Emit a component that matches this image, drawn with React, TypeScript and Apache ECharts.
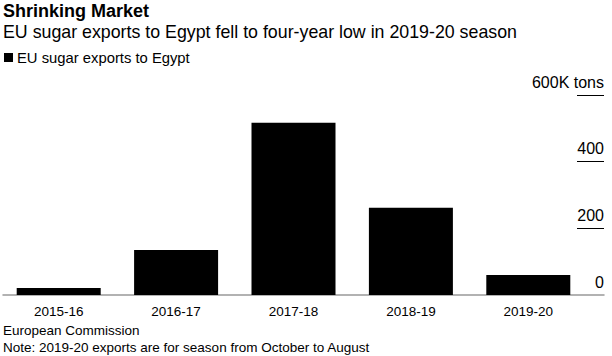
import React, { useEffect, useRef } from "react";
import * as echarts from "echarts";

const categories = ["2015-16", "2016-17", "2017-18", "2018-19", "2019-20"];
const exportsKTons = [21, 135, 517, 262, 60];
const seriesName = "EU sugar exports to Egypt";
const yMin = 0;
const yMax = 600;
const yInterval = 200;
const titleText = "Shrinking Market";
const subtitleText = "EU sugar exports to Egypt fell to four-year low in 2019-20 season";
const sourceText = "European Commission";
const noteText = "Note: 2019-20 exports are for season from October to August";

const FONT = "'Liberation Sans', Arial, Helvetica, sans-serif";

export default function App() {
  const ref = useRef<HTMLDivElement>(null);
  useEffect(() => {
    if (!ref.current) return;
    const chart = echarts.init(ref.current, undefined, { renderer: "svg" });
    const gridTop = 95;
    const gridBottom = 61;
    chart.setOption({
      animation: false,
      backgroundColor: "#fff",
      textStyle: { fontFamily: FONT },
      title: [
        {
          text: titleText,
          left: 3,
          top: 2,
          padding: 0,
          textStyle: { fontFamily: FONT, fontSize: 18, fontWeight: "bold", color: "#000" },
        },
        {
          text: subtitleText,
          left: 3,
          top: 23,
          padding: 0,
          textStyle: { fontFamily: FONT, fontSize: 17.8, fontWeight: "normal", color: "#000" },
        },
        {
          text: sourceText,
          left: 3,
          top: 323,
          padding: 0,
          textStyle: { fontFamily: FONT, fontSize: 13.5, fontWeight: "normal", color: "#000" },
        },
        {
          text: noteText,
          left: 3,
          top: 340,
          padding: 0,
          textStyle: { fontFamily: FONT, fontSize: 13.5, fontWeight: "normal", color: "#000" },
        },
      ],
      legend: {
        data: [seriesName],
        left: 4,
        top: 50,
        padding: 0,
        icon: "rect",
        itemWidth: 9,
        itemHeight: 9,
        itemGap: 5,
        textStyle: { fontFamily: FONT, fontSize: 14.8, color: "#000", padding: [0, 0, 0, -1] },
      },
      grid: [
        { left: -15, right: 25, top: gridTop, bottom: gridBottom },
        { left: 577, right: 8, top: gridTop, bottom: gridBottom },
        { left: 3, right: 8, top: gridTop, bottom: gridBottom },
      ],
      xAxis: [
        {
          type: "category",
          gridIndex: 0,
          data: categories,
          axisLine: { show: false },
          axisTick: { show: false },
          axisLabel: { fontFamily: FONT, fontSize: 13.5, color: "#000", margin: 9 },
        },
        {
          type: "value",
          gridIndex: 1,
          min: 0,
          max: 1,
          show: false,
        },
        {
          type: "value",
          gridIndex: 2,
          min: 0,
          max: 1,
          axisLine: { show: true, lineStyle: { color: "#999", width: 1.5 } },
          axisTick: { show: false },
          axisLabel: { show: false },
          splitLine: { show: false },
        },
      ],
      yAxis: [
        {
          type: "value",
          gridIndex: 0,
          min: yMin,
          max: yMax,
          interval: yInterval,
          show: false,
        },
        {
          type: "value",
          gridIndex: 1,
          position: "right",
          min: yMin,
          max: yMax,
          interval: yInterval,
          axisLine: { show: false },
          axisTick: { show: false },
          splitLine: { show: true, showMinLine: false, lineStyle: { color: "#000", width: 1 } },
          axisLabel: {
            inside: true,
            margin: 0,
            align: "right",
            verticalAlign: "bottom",
            padding: [0, 0, 5, 0],
            fontFamily: FONT,
            fontSize: 16,
            color: "#000",
            formatter: (v: number) => (v === yMax ? `${v}K tons` : `${v}`),
          },
        },
        {
          type: "value",
          gridIndex: 2,
          min: yMin,
          max: yMax,
          show: false,
        },
      ],
      series: [
        {
          name: seriesName,
          type: "bar",
          xAxisIndex: 0,
          yAxisIndex: 0,
          data: exportsKTons,
          barWidth: 84,
          itemStyle: { color: "#000" },
          z: 1,
        },
      ],
    });
    return () => chart.dispose();
  }, []);
  return <div ref={ref} style={{ width: 612, height: 356, position: "absolute", left: 0, top: 0 }} />;
}
